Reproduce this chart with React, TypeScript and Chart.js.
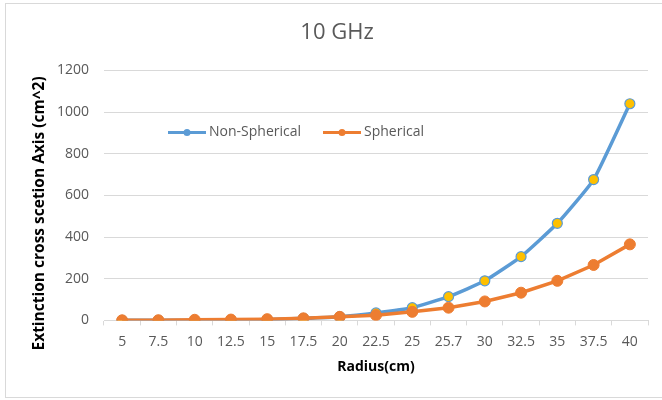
import React, { useEffect, useRef } from "react";
import { Chart, registerables } from "chart.js";

Chart.register(...registerables);

const categories = ["5", "7.5", "10", "12.5", "15", "17.5", "20", "22.5", "25", "25.7", "30", "32.5", "35", "37.5", "40"];
const nonSpherical = [0.3, 0.7, 0, 0, 4, 10, 18, 36, 61, 114, 190, 306, 466, 676, 1040];
const spherical = [0.5, 1, 3, 4, 6, 10, 17, 25, 41, 61, 91, 133, 190, 266, 365];
const yTicks = [0, 200, 400, 600, 800, 1000, 1200];
const seriesNames = ["Non-Spherical", "Spherical"];
const yTitle = "Extinction cross scetion Axis (cm^2)";

const BLUE = "#5B9BD5";
const ORANGE = "#ED7D31";
const YELLOW = "#FFC000";
const GREY = "#595959";
const FONT = "'Open Sans', sans-serif";

const insideLegend = {
  id: "insideLegend",
  beforeDatasetsDraw(chart: any) {
    const { ctx, chartArea } = chart;
    const L = chartArea.left;
    const T = chartArea.top;
    ctx.save();
    ctx.fillStyle = "#ffffff";
    ctx.fillRect(L + 58, T + 44, 280, 37);
    const items = [
      { name: seriesNames[0], color: BLUE, x0: L + 64 },
      { name: seriesNames[1], color: ORANGE, x0: L + 219 },
    ];
    const y = T + 62;
    ctx.font = `14px ${FONT}`;
    ctx.textBaseline = "middle";
    ctx.textAlign = "left";
    for (const it of items) {
      ctx.strokeStyle = it.color;
      ctx.lineWidth = 3;
      ctx.beginPath();
      ctx.moveTo(it.x0, y);
      ctx.lineTo(it.x0 + 38, y);
      ctx.stroke();
      ctx.fillStyle = it.color;
      ctx.beginPath();
      ctx.arc(it.x0 + 19, y, 3.5, 0, Math.PI * 2);
      ctx.fill();
      ctx.fillStyle = GREY;
      ctx.fillText(it.name, it.x0 + 41, y);
    }
    ctx.restore();
  },
  afterDraw(chart: any) {
    const { ctx, chartArea } = chart;
    ctx.save();
    ctx.translate(chartArea.left - 64, chartArea.bottom - 107);
    ctx.rotate(-Math.PI / 2);
    ctx.font = `bold 15.5px ${FONT}`;
    ctx.fillStyle = "#000000";
    ctx.textAlign = "center";
    ctx.textBaseline = "middle";
    ctx.fillText(yTitle, 0, 0);
    ctx.restore();
  },
};

export default function App() {
  const ref = useRef<HTMLCanvasElement | null>(null);
  useEffect(() => {
    if (!ref.current) return;
    const chart = new Chart(ref.current, {
      type: "line",
      data: {
        labels: categories,
        datasets: [
          {
            label: seriesNames[0],
            data: nonSpherical,
            borderColor: BLUE,
            backgroundColor: BLUE,
            borderWidth: 3.5,
            pointRadius: 5,
            pointBackgroundColor: YELLOW,
            pointBorderColor: BLUE,
            pointBorderWidth: 1.2,
            tension: 0.15,
            order: 1,
          },
          {
            label: seriesNames[1],
            data: spherical,
            borderColor: ORANGE,
            backgroundColor: ORANGE,
            borderWidth: 3.5,
            pointRadius: 5.5,
            pointBackgroundColor: ORANGE,
            pointBorderColor: ORANGE,
            pointBorderWidth: 1,
            tension: 0,
            order: 0,
          },
        ],
      },
      options: {
        responsive: false,
        animation: false,
        layout: { padding: { left: 26, right: 14, top: 0, bottom: 0 } },
        plugins: {
          legend: { display: false },
          tooltip: { enabled: false },
          title: {
            display: true,
            text: "10 GHz",
            color: GREY,
            font: { family: FONT, size: 22, weight: "normal" },
            padding: { top: 20, bottom: 24 },
          },
        },
        scales: {
          x: {
            offset: true,
            grid: {
              display: true,
              drawOnChartArea: false,
              drawTicks: true,
              tickLength: 5,
              color: "#d9d9d9",
              offset: true,
            },
            border: { display: true, color: "#d9d9d9" },
            ticks: {
              color: GREY,
              font: { family: FONT, size: 14 },
              padding: 8,
              maxRotation: 0,
              autoSkip: false,
            },
            title: {
              display: true,
              text: "Radius(cm)",
              color: "#000000",
              font: { family: FONT, size: 14, weight: "bold" },
              padding: { top: 0, bottom: 25 },
            },
          },
          y: {
            min: yTicks[0],
            max: yTicks[yTicks.length - 1],
            grid: { color: "#d9d9d9", drawTicks: false },
            border: { display: false },
            afterFit: (scale: any) => {
              scale.width = 78;
            },
            ticks: {
              stepSize: 200,
              color: GREY,
              font: { family: FONT, size: 14 },
              padding: 15,
              callback: (v: any) => String(v),
            },
            title: { display: false },
          },
        },
      },
      plugins: [insideLegend],
    });
    return () => chart.destroy();
  }, []);

  return (
    <div style={{ position: "fixed", left: 0, top: 0, width: 662, height: 400, background: "#ffffff", overflow: "hidden" }}>
      <div
        style={{
          position: "absolute",
          left: 5,
          top: 3,
          width: 700,
          height: 395,
          border: "1px solid #d9d9d9",
          boxSizing: "border-box",
          pointerEvents: "none",
        }}
      />
      <canvas ref={ref} width={662} height={400} style={{ position: "absolute", left: 0, top: 0, width: 662, height: 400 }} />
    </div>
  );
}
